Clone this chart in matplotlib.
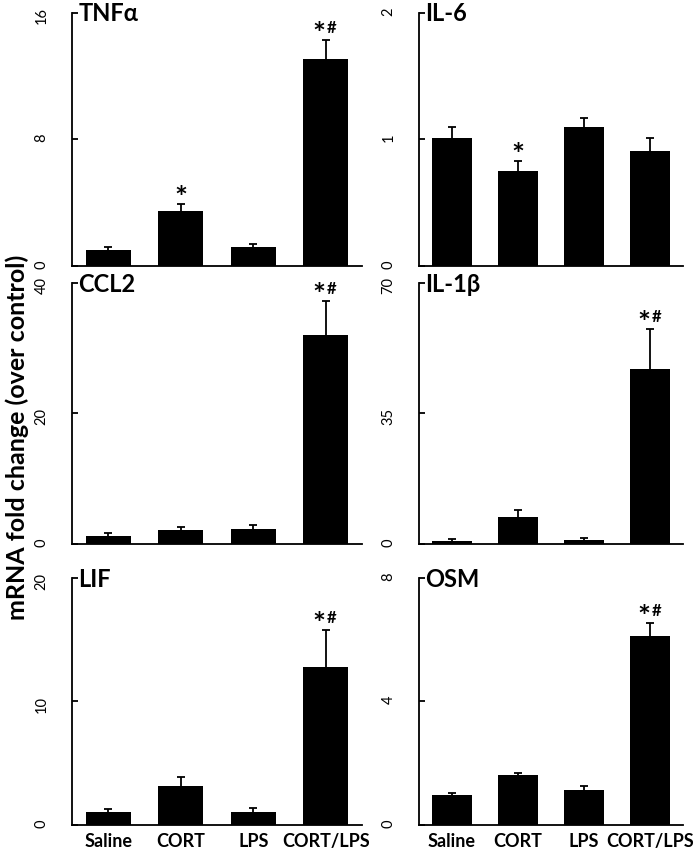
import matplotlib
matplotlib.use('Agg')
import matplotlib.pyplot as plt

plt.rcParams['font.family'] = ['Lato', 'DejaVu Sans']

# groups
groups = ['Saline', 'CORT', 'LPS', 'CORT/LPS']

# mean values and SEM (upper error only)
tnfa = [1.0, 3.44, 1.16, 13.06]
tnfa_err = [0.18, 0.46, 0.21, 1.24]
il6 = [1.01, 0.745, 1.10, 0.91]
il6_err = [0.09, 0.085, 0.07, 0.10]
ccl2 = [1.17, 2.13, 2.24, 32.05]
ccl2_err = [0.59, 0.47, 0.69, 5.15]
il1b = [0.83, 7.1, 1.1, 47.0]
il1b_err = [0.47, 2.1, 0.47, 10.7]
lif = [1.0, 3.13, 1.06, 12.8]
lif_err = [0.25, 0.71, 0.27, 3.0]
osm = [0.97, 1.62, 1.14, 6.13]
osm_err = [0.06, 0.07, 0.13, 0.42]

# significance marks
marks_tnfa = ['', '*', '', '*#']
marks_il6 = ['', '*', '', '']
marks_other = ['', '', '', '*#']

panels = [
    ('TNFα', tnfa, tnfa_err, [0, 8, 16], marks_tnfa),
    ('IL-6', il6, il6_err, [0, 1, 2], marks_il6),
    ('CCL2', ccl2, ccl2_err, [0, 20, 40], marks_other),
    ('IL-1β', il1b, il1b_err, [0, 35, 70], marks_other),
    ('LIF', lif, lif_err, [0, 10, 20], marks_other),
    ('OSM', osm, osm_err, [0, 4, 8], marks_other),
]

fig = plt.figure(figsize=(6.98, 8.58), dpi=100)

# axes rectangles in figure fractions
W, H = 698.0, 858.0
cols = [(72, 290), (419, 264)]
rows = [(12.7, 265.7), (282.7, 544), (578, 824.7)]

for i, (name, vals, errs, ticks, marks) in enumerate(panels):
    r, c = divmod(i, 2)
    x0, w = cols[c]
    top, bot = rows[r]
    ax = fig.add_axes([x0 / W, 1 - bot / H, w / W, (bot - top) / H])
    x = range(len(groups))
    ax.bar(x, vals, width=0.62, color='black', zorder=2)
    eb = ax.errorbar(x, vals, yerr=[[0] * 4, errs], fmt='none', ecolor='black',
                     elinewidth=1.3, capsize=3, capthick=1.3, zorder=1)
    eb[1][0].remove()  # no cap at bar top
    ax.set_xlim(-0.5, 3.5)
    ax.set_ylim(ticks[0], ticks[-1])
    ax.set_yticks(ticks)
    ax.set_yticklabels([str(t) for t in ticks])
    for s in ['top', 'right']:
        ax.spines[s].set_visible(False)
    for s in ['left', 'bottom']:
        ax.spines[s].set_linewidth(1.3)
    ax.tick_params(axis='y', direction='in', length=4, width=1.3,
                   labelrotation=90, labelsize=10.5, pad=17)
    ax.tick_params(axis='x', length=0, labelsize=13, pad=6)
    if r == 2:
        ax.set_xticks(list(x))
        ax.set_xticklabels(groups, fontweight='bold')
    else:
        ax.set_xticks([])
    ax.text(0.022, 0.995, name, transform=ax.transAxes, fontsize=17,
            fontweight='bold', ha='left', va='center')
    for xi, v, e, m in zip(x, vals, errs, marks):
        if m == '*':
            ax.annotate('*', xy=(xi, v + e), xytext=(0, -3), textcoords='offset points',
                        ha='center', va='baseline', fontsize=22, fontweight='bold')
        elif m == '*#':
            ax.annotate('*', xy=(xi, v + e), xytext=(0, -3), textcoords='offset points',
                        ha='right', va='baseline', fontsize=22, fontweight='bold')
            ax.annotate('#', xy=(xi, v + e), xytext=(1, 5), textcoords='offset points',
                        ha='left', va='baseline', fontsize=12, fontweight='bold')

fig.text(17 / W, 0.49, 'mRNA fold change (over control)', rotation=90,
         fontsize=18, fontweight='bold', ha='center', va='center')

fig.savefig('out.png', dpi=100)
